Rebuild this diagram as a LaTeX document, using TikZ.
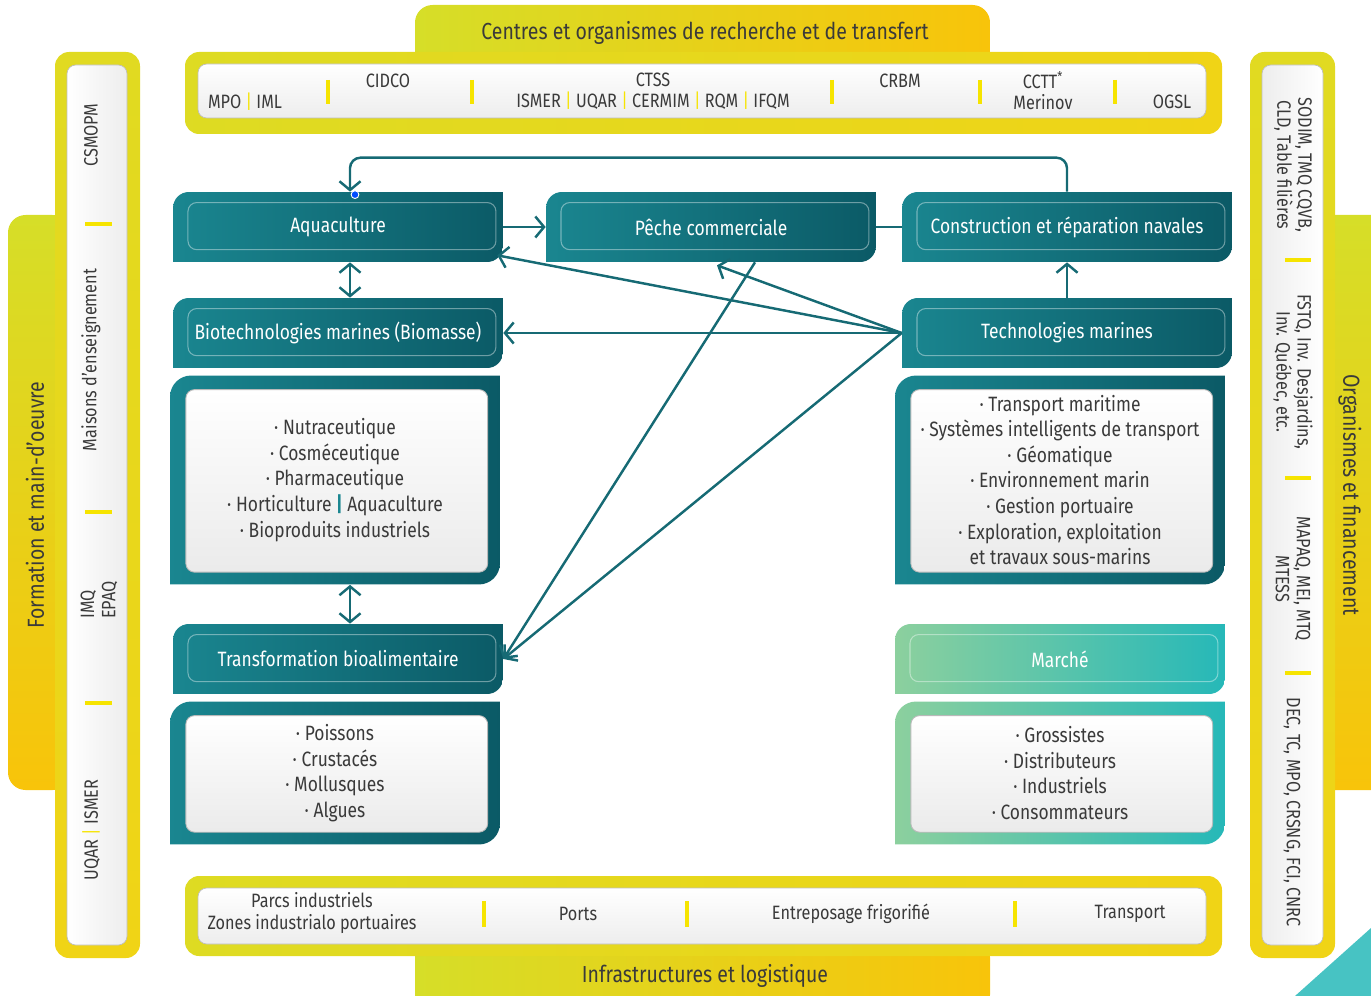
\documentclass[tikz,border=0pt]{standalone}
\usepackage{fontspec}
\setmainfont{Fira Sans}[FakeStretch=0.84]
\usetikzlibrary{arrows.meta,positioning,calc}
\definecolor{mlteal}{RGB}{26,134,144}
\definecolor{mltealdk}{RGB}{11,90,102}
\definecolor{mlline}{RGB}{22,106,116}
\definecolor{mlmint}{RGB}{140,208,158}
\definecolor{mlturq}{RGB}{38,184,184}
\definecolor{mlyelg}{RGB}{214,222,40}
\definecolor{mlgold}{RGB}{248,196,10}
\definecolor{mlyel}{RGB}{240,212,22}
\definecolor{mlsep}{RGB}{246,228,0}
\definecolor{mltext}{RGB}{58,58,58}
\newcommand\tabfont{\fontsize{13.2}{15}\selectfont}
\newcommand\headfont{\fontsize{11.8}{13}\selectfont}
\newcommand\listfont{\fontsize{11.8}{14.6}\selectfont}
\newcommand\tagfont{\fontsize{11}{12}\selectfont}

\begin{document}
\begin{tikzpicture}[x=0.02cm, y=-0.02cm,
    headbox/.style n args={2}{minimum width=6.6cm, minimum height=1.4cm, inner sep=0pt,
      text=white, font=\headfont, path picture={
        \coordinate (sw) at (path picture bounding box.south west);
        \coordinate (nw) at (path picture bounding box.north west);
        \coordinate (ne) at (path picture bounding box.north east);
        \coordinate (se) at (path picture bounding box.south east);
        \shade[left color=#1, right color=#2] (sw) -- ([yshift=-9pt]nw)
          arc[start angle=180, end angle=90, radius=9pt] -- (ne) -- ([yshift=9pt]se)
          arc[start angle=0, end angle=-90, radius=9pt] -- cycle;
        \draw[white, opacity=0.4, line width=0.6pt, rounded corners=5pt]
          ([shift={(8.5pt,7pt)}]sw) rectangle ([shift={(-4pt,-6pt)}]ne);
      }},
    listbox/.style n args={2}{minimum width=6.6cm, inner sep=0pt, align=center,
      text=mltext, font=\listfont, path picture={
        \coordinate (sw) at (path picture bounding box.south west);
        \coordinate (nw) at (path picture bounding box.north west);
        \coordinate (ne) at (path picture bounding box.north east);
        \coordinate (se) at (path picture bounding box.south east);
        \shade[left color=#1, right color=#2] (sw) -- ([yshift=-12pt]nw)
          arc[start angle=180, end angle=90, radius=12pt] -- (ne) -- ([yshift=12pt]se)
          arc[start angle=0, end angle=-90, radius=12pt] -- cycle;
        \shade[top color=white, bottom color=gray!16, draw=gray!55, line width=0.5pt,
          rounded corners=5pt] ([shift={(9pt,7pt)}]sw) rectangle ([shift={(-7pt,-8pt)}]ne);
      }},
    link/.style={draw=mlline, line width=1.4pt, -{Straight Barb[length=5pt, width=12pt]}},
    dlink/.style={draw=mlline, line width=1.4pt,
      {Straight Barb[length=5pt, width=12pt]}-{Straight Barb[length=5pt, width=12pt]}},
    tag/.style={font=\tagfont, text=mltext, align=center, inner sep=1pt},
    tabtitle/.style={font=\tabfont, text=mltext, inner sep=1pt},
    divider/.style={draw=mlsep, line width=1.8pt}
  ]
  \useasboundingbox (0,0) rectangle (1371,996);

  % corner
  \fill[mlturq!85] (1295,996) -- (1371,928) -- (1371,996) -- cycle;

  % tabs
  \shade[left color=mlyelg, right color=mlgold, rounded corners=10pt] (415,5) rectangle (990,70);
  \shade[left color=mlyelg, right color=mlgold, rounded corners=10pt] (415,940) rectangle (990,1012);
  \shade[top color=mlyelg, bottom color=mlgold, rounded corners=10pt] (8,215) rectangle (70,790);
  \shade[top color=mlyelg, bottom color=mlgold, rounded corners=10pt] (1300,215) rectangle (1390,790);

  % frames
  \shade[left color=mlyelg!70!mlyel, right color=mlyel, rounded corners=8pt] (185,52) rectangle (1222,134);
  \shade[left color=mlyelg!70!mlyel, right color=mlyel, rounded corners=8pt] (185,876) rectangle (1222,956);
  \shade[top color=mlyelg!60!mlyel, bottom color=mlyel, rounded corners=8pt] (55,52) rectangle (140,958);
  \shade[top color=mlyelg!60!mlyel, bottom color=mlyel, rounded corners=8pt] (1250,52) rectangle (1335,958);
  \shade[top color=white, bottom color=gray!14, draw=gray!50, rounded corners=5pt] (198,64) rectangle (1206,118);
  \shade[top color=white, bottom color=gray!14, draw=gray!50, rounded corners=5pt] (198,888) rectangle (1206,944);
  \shade[left color=white, right color=gray!14, draw=gray!50, rounded corners=5pt] (67,65) rectangle (127,945);
  \shade[left color=gray!14, right color=white, draw=gray!50, rounded corners=5pt] (1262,65) rectangle (1323,945);

  % titles
  \node[tabtitle] (tRech) at (705,33) {Centres et organismes de recherche et de transfert};
  \node[tabtitle] (tInfra) at (705,976) {Infrastructures et logistique};
  \node[tabtitle, rotate=90] (tForm) at (35,505) {Formation et main-d'oeuvre};
  \node[tabtitle, rotate=-90] (tOrg) at (1350,495) {Organismes et financement};

  % research bar
  \node[tag] (mpo) at (245,102) {MPO {\color{mlsep}|} IML};
  \node[tag] (cidco) at (388,81) {CIDCO};
  \node[tag] (ctss) at (653,91) {CTSS\\ISMER {\color{mlsep}|} UQAR {\color{mlsep}|} CERMIM {\color{mlsep}|} RQM {\color{mlsep}|} IFQM};
  \node[tag] (crbm) at (900,81) {CRBM};
  \node[tag] (cctt) at (1043,91) {CCTT\textsuperscript{*}\\Merinov};
  \node[tag] (ogsl) at (1172,102) {OGSL};
  \foreach \x in {328,472,832,980,1115}
    \draw[divider] (\x,80) -- (\x,104);

  % infrastructure bar
  \node[tag] (parcs) at (312,913) {Parcs industriels\\Zones industrialo portuaires};
  \node[tag] (ports) at (578,914) {Ports};
  \node[tag] (froid) at (851,914) {Entreposage frigorifié};
  \node[tag] (transp) at (1130,914) {Transport};
  \foreach \x in {484,687,1015}
    \draw[divider] (\x,901) -- (\x,927);

  % training bar
  \node[tag, rotate=90] (csmopm) at (91,135) {CSMOPM};
  \node[tag, rotate=90] (maisons) at (91,360) {Maisons d'enseignement};
  \node[tag, rotate=90, align=left] (imq) at (99,600) {IMQ\\EPAQ};
  \node[tag, rotate=90] (uqarL) at (91,830) {UQAR {\color{mlsep}|} ISMER};
  \foreach \y in {224,512,703}
    \draw[divider] (85,\y) -- (112,\y);

  % funding bar
  \node[tag, rotate=-90] (sodim) at (1293,165) {SODIM, TMQ CQVB,\\CLD, Table filières};
  \node[tag, rotate=-90] (fstq) at (1293,372) {FSTQ, Inv. Desjardins,\\Inv. Québec, etc.};
  \node[tag, rotate=-90] (mapaq) at (1293,579) {MAPAQ, MEI, MTQ\\MTESS};
  \node[tag, rotate=-90] (dec) at (1292,812) {DEC, TC, MPO, CRSNG, FCI, CNRC};
  \foreach \y in {260,478,673}
    \draw[divider] (1285,\y) -- (1311,\y);

  % sectors
  \node[headbox={mlteal}{mltealdk}] (aqua) at (338,227) {Aquaculture};
  \node[headbox={mlteal}{mltealdk}] (peche) at (711,227) {Pêche commerciale};
  \node[headbox={mlteal}{mltealdk}] (naval) at (1067,227) {Construction et réparation navales};
  \node[headbox={mlteal}{mltealdk}] (biotech) at (338,333) {Biotechnologies marines (Biomasse)};
  \node[headbox={mlteal}{mltealdk}] (techno) at (1067,333) {Technologies marines};
  \node[headbox={mlteal}{mltealdk}] (transfo) at (338,659) {Transformation bioalimentaire};
  \node[headbox={mlmint}{mlturq}] (marche) at (1060,659) {Marché};

  \node[listbox={mlteal}{mltealdk}, minimum height=4.18cm] (bioList) at (335,480) {%
    · Nutraceutique\\· Cosméceutique\\· Pharmaceutique\\
    · Horticulture {\color{mlteal}\textbf{|}} Aquaculture\\· Bioproduits industriels};
  \node[listbox={mlteal}{mltealdk}, minimum height=4.18cm] (techList) at (1060,480) {%
    · Transport maritime\\· Systèmes intelligents de transport\\· Géomatique\\
    · Environnement marin\\· Gestion portuaire\\· Exploration, exploitation\\et travaux sous-marins};
  \node[listbox={mlteal}{mltealdk}, minimum height=2.86cm] (transList) at (335,773) {%
    · Poissons\\· Crustacés\\· Mollusques\\· Algues};
  \node[listbox={mlmint}{mlturq}, minimum height=2.86cm] (marcheList) at (1060,773) {%
    · Grossistes\\· Distributeurs\\· Industriels\\· Consommateurs};

  % links
  \draw[link, rounded corners=6pt] (naval.north) -- ++(0,-34) -| ([xshift=0.24cm]aqua.north);
  \fill[blue!70!cyan, draw=white, line width=0.5pt] ([xshift=0.34cm,yshift=-0.06cm]aqua.north) circle (2.2pt);
  \draw[link] (aqua.east) -- (peche.west);
  \draw[draw=mlline, line width=1.4pt] (peche.east) -- (naval.west);
  \draw[dlink] (aqua.south -| 350,0) -- (biotech.north -| 350,0);
  \draw[link] (techno.north) -- (naval.south);
  \draw[link] (techno.west) -- ([xshift=-0.12cm,yshift=0.14cm]aqua.south east);
  \draw[link] (techno.west) -- ([xshift=0.12cm,yshift=-0.06cm]peche.south);
  \draw[link] (techno.west) -- (biotech.east);
  \draw[link] (techno.west) -- (transfo.east);
  \draw[link] ([xshift=0.88cm]peche.south) -- (transfo.east);
  \draw[dlink] (bioList.south -| 350,0) -- (transfo.north -| 350,0);
\end{tikzpicture}
\end{document}
